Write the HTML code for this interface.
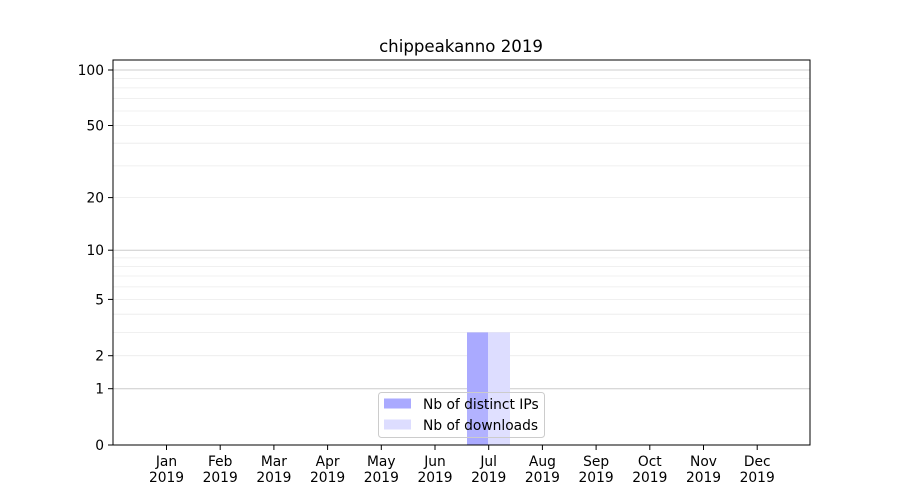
<!DOCTYPE html>
<html><head><meta charset="utf-8"><style>body{margin:0;background:#fff}svg{display:block}text{font-family:"DejaVu Sans","Liberation Sans",sans-serif;font-size:13.8px;fill:#000}</style></head>
<body>
<svg width="900" height="500" xmlns="http://www.w3.org/2000/svg">
<rect width="900" height="500" fill="#fff"/>
<g stroke="#ebebeb" stroke-width="0.8">
<line x1="113" x2="810" y1="355.7" y2="355.7"/><line x1="113" x2="810" y1="332.4" y2="332.4"/><line x1="113" x2="810" y1="314.2" y2="314.2"/><line x1="113" x2="810" y1="299.4" y2="299.4"/><line x1="113" x2="810" y1="286.9" y2="286.9"/><line x1="113" x2="810" y1="276" y2="276"/><line x1="113" x2="810" y1="266.5" y2="266.5"/><line x1="113" x2="810" y1="257.9" y2="257.9"/>
<line x1="113" x2="810" y1="197.6" y2="197.6"/><line x1="113" x2="810" y1="165.9" y2="165.9"/><line x1="113" x2="810" y1="143.2" y2="143.2"/><line x1="113" x2="810" y1="125.5" y2="125.5"/><line x1="113" x2="810" y1="111" y2="111"/><line x1="113" x2="810" y1="98.6" y2="98.6"/><line x1="113" x2="810" y1="87.9" y2="87.9"/><line x1="113" x2="810" y1="78.4" y2="78.4"/>
</g>
<g stroke="#cccccc" stroke-width="1">
<line x1="113" x2="810" y1="388.7" y2="388.7"/><line x1="113" x2="810" y1="250.2" y2="250.2"/><line x1="113" x2="810" y1="70" y2="70"/>
</g>
<rect x="467" y="332.4" width="21" height="112.6" fill="#aaaaff"/>
<rect x="488" y="332.4" width="22" height="112.6" fill="#ddddff"/>
<rect x="378.5" y="392.5" width="166" height="45" rx="3" fill="#fff" fill-opacity="0.1" stroke="#cccccc"/>
<rect x="384" y="398.5" width="27" height="10" fill="#aaaaff"/>
<rect x="384" y="419.5" width="27" height="10" fill="#ddddff"/>
<text x="423" y="409">Nb of distinct IPs</text>
<text x="423" y="430">Nb of downloads</text>
<rect x="113" y="60" width="697" height="385" fill="none" stroke="#000" stroke-width="1"/>
<g stroke="#000">
<line x1="108" x2="113" y1="445" y2="445"/><line x1="108" x2="113" y1="388.7" y2="388.7"/><line x1="108" x2="113" y1="355.7" y2="355.7"/><line x1="108" x2="113" y1="299.4" y2="299.4"/><line x1="108" x2="113" y1="250.2" y2="250.2"/><line x1="108" x2="113" y1="197.6" y2="197.6"/><line x1="108" x2="113" y1="125.5" y2="125.5"/><line x1="108" x2="113" y1="70" y2="70"/>
</g>
<g text-anchor="end">
<text x="104" y="450">0</text><text x="104" y="393.7">1</text><text x="104" y="360.7">2</text><text x="104" y="304.4">5</text><text x="104" y="255.2">10</text><text x="104" y="202.6">20</text><text x="104" y="130.5">50</text><text x="104" y="75">100</text>
</g>
<g stroke="#000">
<line x1="166.5" x2="166.5" y1="445" y2="450"/><line x1="220.2" x2="220.2" y1="445" y2="450"/><line x1="273.9" x2="273.9" y1="445" y2="450"/><line x1="327.6" x2="327.6" y1="445" y2="450"/><line x1="381.3" x2="381.3" y1="445" y2="450"/><line x1="435" x2="435" y1="445" y2="450"/><line x1="488.7" x2="488.7" y1="445" y2="450"/><line x1="542.4" x2="542.4" y1="445" y2="450"/><line x1="596.1" x2="596.1" y1="445" y2="450"/><line x1="649.8" x2="649.8" y1="445" y2="450"/><line x1="703.5" x2="703.5" y1="445" y2="450"/><line x1="757.2" x2="757.2" y1="445" y2="450"/>
</g>
<g text-anchor="middle">
<text x="166.5" y="466">Jan</text><text x="166.5" y="482">2019</text>
<text x="220.2" y="466">Feb</text><text x="220.2" y="482">2019</text>
<text x="273.9" y="466">Mar</text><text x="273.9" y="482">2019</text>
<text x="327.6" y="466">Apr</text><text x="327.6" y="482">2019</text>
<text x="381.3" y="466">May</text><text x="381.3" y="482">2019</text>
<text x="435" y="466">Jun</text><text x="435" y="482">2019</text>
<text x="488.7" y="466">Jul</text><text x="488.7" y="482">2019</text>
<text x="542.4" y="466">Aug</text><text x="542.4" y="482">2019</text>
<text x="596.1" y="466">Sep</text><text x="596.1" y="482">2019</text>
<text x="649.8" y="466">Oct</text><text x="649.8" y="482">2019</text>
<text x="703.5" y="466">Nov</text><text x="703.5" y="482">2019</text>
<text x="757.2" y="466">Dec</text><text x="757.2" y="482">2019</text>
<text x="461" y="52" style="font-size:16.6px">chippeakanno 2019</text>
</g>
</svg>
</body></html>
